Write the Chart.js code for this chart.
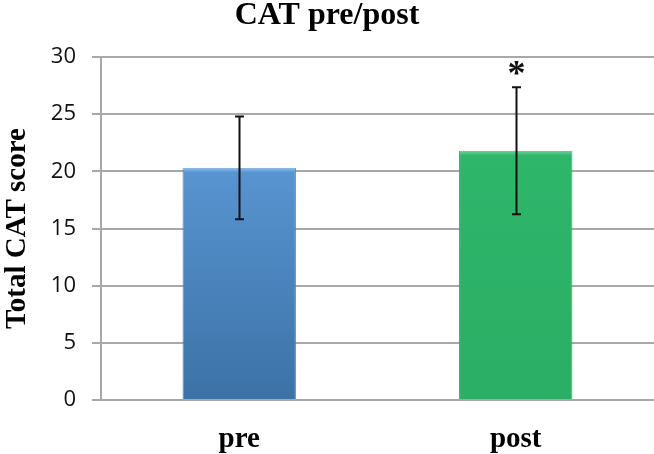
<!DOCTYPE html>
<html>
<head>
<meta charset="utf-8">
<script src="https://cdn.jsdelivr.net/npm/chart.js@4.4.0/dist/chart.umd.min.js"></script>
<style>
  html, body { margin: 0; padding: 0; background: #fff; }
  #wrap { width: 654px; height: 454px; }
</style>
</head>
<body>
<div id="wrap"><canvas id="grafico"></canvas></div>
<script>
// datos del gráfico
const categorias = ['pre', 'post'];
const medias = [20.3, 21.8];
const errores = [4.5, 5.55];
const marcas = ['', '*'];
const ticksY = [0, 5, 10, 15, 20, 25, 30];

// relleno con degradado para cada barra
function rellenoBarra(ctx) {
    const chart = ctx.chart;
    const area = chart.chartArea;
    if (!area) return '#4F8BC9';
    const g = chart.ctx.createLinearGradient(0, chart.scales.y.getPixelForValue(medias[ctx.dataIndex]), 0, area.bottom);
    if (ctx.dataIndex === 0) {
        g.addColorStop(0, '#8DBDE8');
        g.addColorStop(0.02, '#5894D1');
        g.addColorStop(1, '#3C72A6');
    } else {
        g.addColorStop(0, '#74CF9B');
        g.addColorStop(0.02, '#2EB66B');
        g.addColorStop(1, '#2BAE65');
    }
    return g;
}

// plugin para barras de error y asterisco
const barrasError = {
    id: 'barrasError',
    afterDatasetsDraw(chart) {
        const c = chart.ctx;
        const y = chart.scales.y;
        const meta = chart.getDatasetMeta(0);
        c.save();
        c.strokeStyle = '#111';
        c.lineWidth = 2;
        meta.data.forEach((bar, i) => {
            const x = Math.round(bar.x) + 0.5;
            const yt = y.getPixelForValue(medias[i] + errores[i]);
            const yb = y.getPixelForValue(medias[i] - errores[i]);
            c.beginPath();
            c.moveTo(x, yt); c.lineTo(x, yb);
            c.moveTo(x - 4.5, yt); c.lineTo(x + 4.5, yt);
            c.moveTo(x - 4.5, yb); c.lineTo(x + 4.5, yb);
            c.stroke();
            if (marcas[i]) {
                c.fillStyle = '#111';
                c.font = 'bold 36px "Liberation Serif"';
                c.textAlign = 'center';
                c.textBaseline = 'alphabetic';
                c.fillText(marcas[i], x, yt - 2);
            }
        });
        c.restore();
    }
};

new Chart(document.getElementById('grafico'), {
    type: 'bar',
    data: {
        labels: categorias,
        datasets: [{
            data: medias,
            backgroundColor: rellenoBarra,
            borderColor: ['#4A82BA', '#2AA862'],
            borderWidth: { left: 1, right: 1, top: 0, bottom: 0 },
            borderSkipped: false,
            barPercentage: 0.41,
            categoryPercentage: 1.0
        }]
    },
    options: {
        responsive: true,
        maintainAspectRatio: false,
        animation: false,
        layout: { padding: 0 },
        plugins: {
            legend: { display: false },
            tooltip: { enabled: false },
            title: {
                display: true,
                text: 'CAT pre/post',
                color: '#000',
                font: { family: '"Liberation Serif"', size: 32, weight: 'bold', lineHeight: 1 },
                padding: { top: 0, bottom: 25 }
            }
        },
        scales: {
            x: {
                grid: { display: false, drawTicks: true, tickLength: 25 },
                border: { display: false },
                ticks: {
                    color: '#000',
                    font: { family: '"Liberation Serif"', size: 29, weight: 'bold', lineHeight: 1 },
                    padding: 0
                }
            },
            y: {
                min: 0,
                max: 30,
                afterBuildTicks: (s) => { s.ticks = ticksY.map(v => ({ value: v })); },
                grid: { color: '#A8A8A8', lineWidth: 2, tickLength: 9 },
                border: { display: true, color: '#A8A8A8', width: 2 },
                ticks: {
                    color: '#111',
                    font: { family: '"Open Sans"', size: 22 },
                    padding: 16
                },
                title: {
                    display: true,
                    text: 'Total CAT score',
                    color: '#000',
                    font: { family: '"Liberation Serif"', size: 29, weight: 'bold', lineHeight: 1.2 },
                    padding: 0
                }
            }
        }
    },
    plugins: [barrasError]
});
</script>
</body>
</html>
